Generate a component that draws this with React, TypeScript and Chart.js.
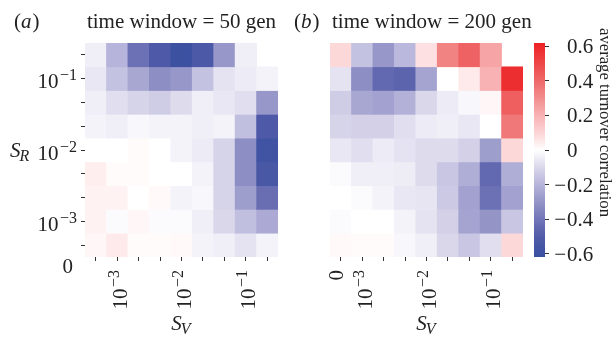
import React, { useEffect, useRef } from 'react';
import { Chart, registerables } from 'chart.js';

Chart.register(...registerables);

// ---------------- data ----------------
const SV_CATEGORIES = ['sv0', 'sv1', 'sv2', 'sv3', 'sv4', 'sv5', 'sv6', 'sv7', 'sv8'];
const SV_TICK_LABELS_A = ['', '10^−3', '', '', '10^−2', '', '', '10^−1', ''];
const SV_TICK_LABELS_B = ['0', '10^−3', '', '', '10^−2', '', '', '10^−1', ''];
const SR_TICK_LABELS = ['', '10^−1', '', '', '10^−2', '', '', '10^−3', '', '0'];
const CBAR_TICKS = [0.6, 0.4, 0.2, 0, -0.2, -0.4, -0.6];
const CBAR_MIN = -0.62;
const CBAR_MAX = 0.62;
const TITLE_A = 'time window = 50 gen';
const TITLE_B = 'time window = 200 gen';
const CBAR_LABEL = 'average turnover correlation';

// rows: top (largest S_R) to bottom; columns: S_V increasing
const CORR_A: (number | null)[][] = [
  [-0.04, -0.2, -0.42, -0.52, -0.6, -0.53, -0.29, -0.04, null],
  [-0.06, -0.16, -0.24, -0.32, -0.29, -0.16, -0.07, -0.05, -0.03],
  [-0.04, -0.08, -0.11, -0.13, -0.09, -0.04, -0.06, -0.08, -0.29],
  [-0.03, -0.04, -0.02, -0.03, -0.03, -0.04, -0.03, -0.17, -0.52],
  [0, 0, 0.01, 0, -0.03, -0.05, -0.11, -0.32, -0.58],
  [0.04, 0.01, 0.01, 0, 0, -0.03, -0.11, -0.32, -0.54],
  [0.03, 0.03, 0, 0.015, -0.03, -0.02, -0.11, -0.27, -0.43],
  [0.03, -0.01, 0.02, -0.01, -0.01, -0.04, -0.1, -0.17, -0.23],
  [0.02, 0.05, 0.01, 0.01, 0.015, -0.03, -0.04, -0.07, -0.03],
];

const CORR_B: (number | null)[][] = [
  [0.09, -0.16, -0.29, -0.19, 0.07, 0.33, 0.42, 0.24, null],
  [-0.07, -0.32, -0.45, -0.47, -0.25, 0, 0.05, 0.2, 0.58],
  [-0.13, -0.24, -0.26, -0.21, -0.1, -0.05, -0.02, 0.02, 0.43],
  [-0.11, -0.12, -0.12, -0.08, -0.05, -0.04, -0.06, 0, 0.36],
  [-0.06, -0.08, -0.05, -0.07, -0.09, -0.09, -0.12, -0.27, 0.09],
  [-0.01, -0.04, -0.04, -0.045, -0.09, -0.15, -0.22, -0.45, -0.22],
  [0, -0.01, -0.03, -0.06, -0.065, -0.14, -0.26, -0.42, -0.26],
  [-0.01, 0, 0, -0.03, -0.07, -0.12, -0.25, -0.3, -0.15],
  [0.015, 0.01, 0.01, -0.02, -0.04, -0.1, -0.15, -0.08, 0.09],
];

// ---------------- style ----------------
const FONT = "'Liberation Serif', 'Times New Roman', 'DejaVu Serif', serif";
const TEXT_COLOR = '#222222';
const TICK_COLOR = '#333333';
const BASE = 21;
const SUP = 16;

const NEG_STOPS: [number, number[]][] = [
  [0, [255, 255, 255]],
  [0.1, [218, 215, 235]],
  [0.2, [182, 180, 218]],
  [0.3, [148, 148, 199]],
  [0.4, [115, 118, 184]],
  [0.5, [82, 92, 168]],
  [0.62, [56, 80, 160]],
];
const POS_STOPS: [number, number[]][] = [
  [0, [255, 255, 255]],
  [0.1, [252, 212, 213]],
  [0.2, [248, 178, 180]],
  [0.3, [242, 142, 142]],
  [0.4, [239, 105, 106]],
  [0.5, [238, 72, 72]],
  [0.62, [237, 33, 36]],
];

function colorFor(v: number | null): string {
  if (v === null || v === undefined) return 'rgba(255,255,255,0)';
  const stops = v < 0 ? NEG_STOPS : POS_STOPS;
  const a = Math.min(Math.abs(v), stops[stops.length - 1][0]);
  for (let i = 0; i < stops.length - 1; i++) {
    const [t0, c0] = stops[i];
    const [t1, c1] = stops[i + 1];
    if (a >= t0 && a <= t1) {
      const f = (a - t0) / (t1 - t0);
      const c = c0.map((x, k) => Math.round(x + (c1[k] - x) * f));
      return `rgb(${c[0]},${c[1]},${c[2]})`;
    }
  }
  const c = stops[stops.length - 1][1];
  return `rgb(${c[0]},${c[1]},${c[2]})`;
}

// ---------------- text helpers ----------------
function drawMath(ctx: CanvasRenderingContext2D, label: string, x: number, y: number, align: 'left' | 'right' | 'center') {
  const [base, exp] = label.split('^');
  ctx.font = `${BASE}px ${FONT}`;
  const wb = ctx.measureText(base).width;
  ctx.font = `${SUP}px ${FONT}`;
  const we = exp ? ctx.measureText(exp).width + 1.5 : 0;
  const total = wb + we;
  const x0 = align === 'left' ? x : align === 'right' ? x - total : x - total / 2;
  ctx.textAlign = 'left';
  ctx.textBaseline = 'alphabetic';
  ctx.font = `${BASE}px ${FONT}`;
  ctx.fillText(base, x0, y);
  if (exp) {
    ctx.font = `${SUP}px ${FONT}`;
    ctx.fillText(exp, x0 + wb + 1.5, y - 8);
  }
}

function drawSub(ctx: CanvasRenderingContext2D, main: string, sub: string, x: number, y: number, align: 'left' | 'center') {
  ctx.font = `italic ${BASE}px ${FONT}`;
  const wm = ctx.measureText(main).width;
  ctx.font = `italic ${SUP}px ${FONT}`;
  const ws = ctx.measureText(sub).width;
  const x0 = align === 'left' ? x : x - (wm + ws) / 2;
  ctx.textAlign = 'left';
  ctx.textBaseline = 'alphabetic';
  ctx.font = `italic ${BASE}px ${FONT}`;
  ctx.fillText(main, x0, y);
  ctx.font = `italic ${SUP}px ${FONT}`;
  ctx.fillText(sub, x0 + wm - 1, y + 4);
}

function drawTag(ctx: CanvasRenderingContext2D, letter: string, x: number, y: number) {
  ctx.textAlign = 'left';
  ctx.textBaseline = 'alphabetic';
  ctx.font = `${BASE}px ${FONT}`;
  ctx.fillText('(', x, y);
  let cx = x + ctx.measureText('(').width;
  ctx.font = `italic ${BASE}px ${FONT}`;
  ctx.fillText(letter, cx, y);
  cx += ctx.measureText(letter).width + 1;
  ctx.font = `${BASE}px ${FONT}`;
  ctx.fillText(')', cx, y);
}

function drawXTickLabels(chart: any, labels: string[]) {
  const ctx = chart.ctx as CanvasRenderingContext2D;
  const xs = chart.scales.x;
  labels.forEach((lab, i) => {
    if (!lab) return;
    const x = xs.getPixelForValue(i);
    const hasExp = lab.includes('^');
    ctx.save();
    ctx.translate(x + (hasExp ? 9.5 : 2), 270);
    ctx.rotate(-Math.PI / 2);
    drawMath(ctx, lab, 0, 0, 'right');
    ctx.restore();
  });
}

// ---------------- plugins ----------------
const textPluginA = {
  id: 'textA',
  afterDraw(chart: any) {
    const ctx = chart.ctx as CanvasRenderingContext2D;
    const area = chart.chartArea;
    const ys = chart.scales.y;
    ctx.save();
    ctx.fillStyle = TEXT_COLOR;
    drawTag(ctx, 'a', 14, 28);
    ctx.font = `${BASE}px ${FONT}`;
    ctx.textAlign = 'center';
    ctx.textBaseline = 'alphabetic';
    ctx.fillText(TITLE_A, (area.left + area.right) / 2, 28);
    SR_TICK_LABELS.forEach((lab, i) => {
      if (!lab) return;
      const y = ys.getPixelForValue(i + 0.5);
      const hasExp = lab.includes('^');
      drawMath(ctx, lab, hasExp ? 77 : 73, y + (hasExp ? 9.5 : 4.3), 'right');
    });
    drawXTickLabels(chart, SV_TICK_LABELS_A);
    drawSub(ctx, 'S', 'R', 10, 157, 'left');
    drawSub(ctx, 'S', 'V', (area.left + area.right) / 2, 330, 'center');
    ctx.restore();
  },
};

const textPluginB = {
  id: 'textB',
  afterDraw(chart: any) {
    const ctx = chart.ctx as CanvasRenderingContext2D;
    const area = chart.chartArea;
    ctx.save();
    ctx.fillStyle = TEXT_COLOR;
    drawTag(ctx, 'b', 294, 28);
    ctx.font = `${BASE}px ${FONT}`;
    ctx.textAlign = 'left';
    ctx.textBaseline = 'alphabetic';
    ctx.fillText(TITLE_B, 332, 28);
    drawXTickLabels(chart, SV_TICK_LABELS_B);
    drawSub(ctx, 'S', 'V', (area.left + area.right) / 2, 330, 'center');
    ctx.restore();
  },
};

const textPluginC = {
  id: 'textC',
  afterDraw(chart: any) {
    const ctx = chart.ctx as CanvasRenderingContext2D;
    const ys = chart.scales.y;
    ctx.save();
    ctx.fillStyle = TEXT_COLOR;
    ctx.font = `${BASE}px ${FONT}`;
    ctx.textBaseline = 'alphabetic';
    CBAR_TICKS.forEach((v) => {
      const y = ys.getPixelForValue(v) + 7;
      const txt = v === 0 ? '0' : Math.abs(v).toFixed(1);
      ctx.textAlign = 'left';
      ctx.fillText(txt, 567, y);
      if (v < 0) {
        ctx.textAlign = 'right';
        ctx.fillText('−', 566, y);
      }
    });
    ctx.translate(600, 28);
    ctx.rotate(Math.PI / 2);
    ctx.font = `16.7px ${FONT}`;
    ctx.textAlign = 'left';
    ctx.fillText(CBAR_LABEL, 0, 0);
    ctx.restore();
  },
};

// ---------------- chart configs ----------------
function rowTickPlacer(rows: number) {
  return (scale: any) => {
    const t = [];
    for (let i = 0; i < rows; i++) t.push({ value: i + 0.5 });
    scale.ticks = t;
  };
}

function heatmapConfig(values: (number | null)[][], pad: any, showY: boolean, plugin: any): any {
  const rows = values.length;
  return {
    type: 'bar',
    data: {
      labels: SV_CATEGORIES,
      datasets: values.map((row, r) => ({
        data: row.map((v) => (v === null ? null : [r, r + 1])),
        backgroundColor: row.map((v) => colorFor(v)),
        borderWidth: 0,
        grouped: false,
        categoryPercentage: 1,
        barPercentage: 1,
      })),
    },
    options: {
      responsive: false,
      animation: false,
      events: [],
      layout: { padding: pad },
      plugins: { legend: { display: false }, tooltip: { enabled: false } },
      scales: {
        x: {
          type: 'category',
          offset: true,
          border: { display: false },
          grid: { drawOnChartArea: false, drawTicks: true, tickLength: 4, offset: false, color: TICK_COLOR, lineWidth: 1 },
          ticks: { display: false },
        },
        y: {
          type: 'linear',
          display: showY,
          min: 0,
          max: rows,
          reverse: true,
          border: { display: false },
          grid: { drawOnChartArea: false, drawTicks: true, tickLength: 4, color: TICK_COLOR, lineWidth: 1 },
          ticks: { display: false },
          afterBuildTicks: rowTickPlacer(rows),
        },
      },
    },
    plugins: [plugin],
  };
}

function colorbarConfig(): any {
  return {
    type: 'bar',
    data: {
      labels: ['cbar'],
      datasets: [
        {
          data: [[CBAR_MIN, CBAR_MAX]],
          backgroundColor: (c: any) => {
            const area = c.chart.chartArea;
            if (!area) return '#ffffff';
            const g = c.chart.ctx.createLinearGradient(0, area.bottom, 0, area.top);
            const n = 40;
            for (let i = 0; i <= n; i++) {
              const v = CBAR_MIN + ((CBAR_MAX - CBAR_MIN) * i) / n;
              g.addColorStop(i / n, colorFor(v));
            }
            return g;
          },
          borderWidth: 0,
          categoryPercentage: 1,
          barPercentage: 1,
        },
      ],
    },
    options: {
      responsive: false,
      animation: false,
      events: [],
      layout: { padding: { left: 534, right: 66, top: 43, bottom: 81 } },
      plugins: { legend: { display: false }, tooltip: { enabled: false } },
      scales: {
        x: { type: 'category', display: false },
        y: {
          type: 'linear',
          position: 'right',
          min: CBAR_MIN,
          max: CBAR_MAX,
          border: { display: false },
          grid: { drawOnChartArea: false, drawTicks: true, tickLength: 4, color: TICK_COLOR, lineWidth: 1 },
          ticks: { display: false },
          afterBuildTicks: (scale: any) => {
            scale.ticks = CBAR_TICKS.map((v) => ({ value: v }));
          },
        },
      },
    },
    plugins: [textPluginC],
  };
}

export default function App() {
  const refA = useRef<HTMLCanvasElement>(null);
  const refB = useRef<HTMLCanvasElement>(null);
  const refC = useRef<HTMLCanvasElement>(null);

  useEffect(() => {
    const charts: Chart[] = [];
    if (refA.current) {
      charts.push(new Chart(refA.current, heatmapConfig(CORR_A, { left: 81, right: 337, top: 43, bottom: 77 }, true, textPluginA)));
    }
    if (refB.current) {
      charts.push(new Chart(refB.current, heatmapConfig(CORR_B, { left: 330, right: 92, top: 43, bottom: 77 }, false, textPluginB)));
    }
    if (refC.current) {
      charts.push(new Chart(refC.current, colorbarConfig()));
    }
    return () => charts.forEach((c) => c.destroy());
  }, []);

  const cs: React.CSSProperties = { position: 'absolute', left: 0, top: 0, width: 615, height: 338 };
  return (
    <div style={{ position: 'fixed', left: 0, top: 0, width: 615, height: 338, background: '#ffffff' }}>
      <canvas ref={refA} width={615} height={338} style={cs} />
      <canvas ref={refB} width={615} height={338} style={cs} />
      <canvas ref={refC} width={615} height={338} style={cs} />
    </div>
  );
}
